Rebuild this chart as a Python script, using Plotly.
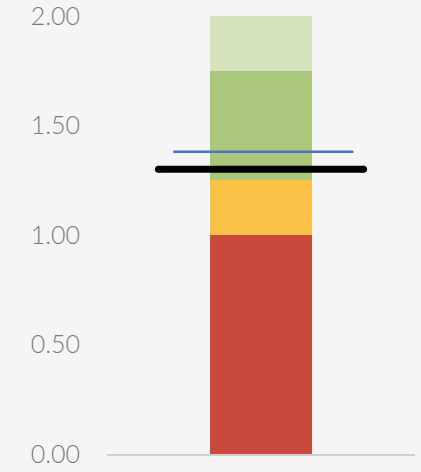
import plotly.graph_objects as go

# Data
category = ["Score"]
band_names = ["Poor", "Fair", "Good", "Excellent"]
band_values = [1.00, 0.25, 0.50, 0.25]
band_colors = ["#c94a3c", "#f9c246", "#aac77b", "#d6e4bd"]
target_value = 1.30
actual_value = 1.38
tick_values = [0.0, 0.5, 1.0, 1.5, 2.0]
tick_labels = ["0.00", "0.50", "1.00", "1.50", "2.00"]

fig = go.Figure()
for name, val, col in zip(band_names, band_values, band_colors):
    fig.add_trace(go.Bar(x=[0], y=[val], name=name, marker=dict(color=col, line=dict(width=0)),
                         width=0.334, showlegend=False, hoverinfo="skip"))

# actual (thin blue) line
fig.add_trace(go.Scatter(x=[-0.285, 0.30], y=[actual_value, actual_value], mode="lines",
                         line=dict(color="#4a74c4", width=2.5), showlegend=False, hoverinfo="skip"))
# target (thick black) line with rounded ends
fig.add_trace(go.Scatter(x=[-0.333, 0.333], y=[target_value, target_value], mode="lines+markers",
                         line=dict(color="#000000", width=7),
                         marker=dict(color="#000000", size=7, line=dict(width=0)),
                         showlegend=False, hoverinfo="skip"))

fig.update_layout(
    barmode="stack",
    width=421, height=472,
    margin=dict(l=107, r=6, t=16, b=18),
    paper_bgcolor="#f5f5f5", plot_bgcolor="#f5f5f5",
    font=dict(family="Lato, sans-serif", color="#7a7a7a", size=25, weight=300),
    xaxis=dict(range=[-0.5, 0.5], showticklabels=False, showgrid=False, zeroline=False,
               showline=True, linecolor="#cfcfcf", linewidth=1.5, fixedrange=True,
               automargin=False),
    yaxis=dict(range=[0, 2], tickvals=tick_values, ticktext=tick_labels, showgrid=False,
               zeroline=False, showline=False, ticklabelstandoff=26, fixedrange=True,
               automargin=False, ticklabeloverflow="allow"),
)

fig.write_html("out.html", config={"displayModeBar": False},
               post_script="document.body.style.margin='0';document.body.style.overflow='hidden';document.body.style.background='#f5f5f5';")
